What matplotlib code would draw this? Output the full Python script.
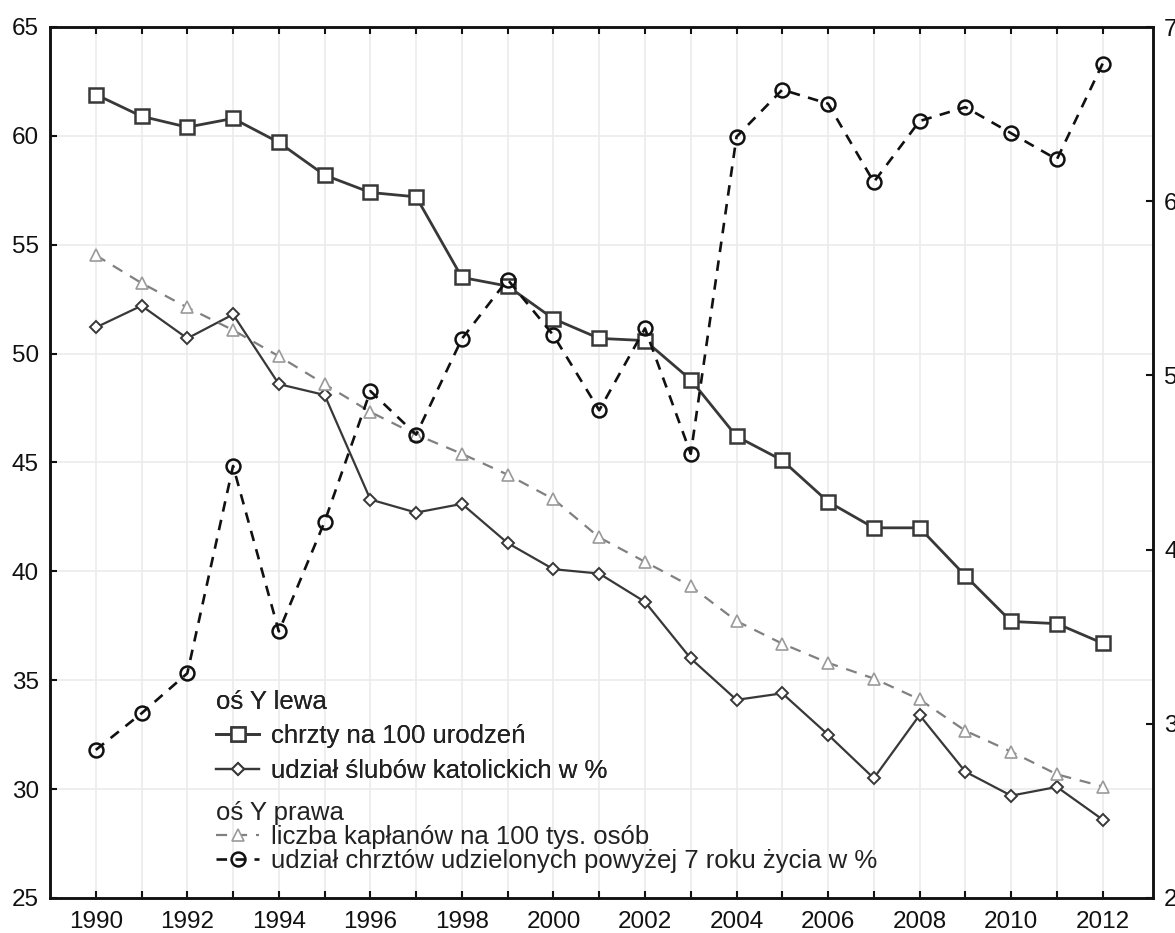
import matplotlib
matplotlib.use("Agg")
import matplotlib.pyplot as plt

plt.rcParams['font.family'] = ['Liberation Sans', 'DejaVu Sans']

# lata
years = [1990, 1991, 1992, 1993, 1994, 1995, 1996, 1997, 1998, 1999, 2000, 2001,
         2002, 2003, 2004, 2005, 2006, 2007, 2008, 2009, 2010, 2011, 2012]
year_labels = [str(y) if y % 2 == 0 else "" for y in years]

# os Y lewa
chrzty = [61.9, 60.9, 60.4, 60.8, 59.7, 58.2, 57.4, 57.2, 53.5, 53.1, 51.6, 50.7,
          50.6, 48.8, 46.2, 45.1, 43.2, 42.0, 42.0, 39.8, 37.7, 37.6, 36.7]
sluby = [51.2, 52.2, 50.7, 51.8, 48.6, 48.1, 43.3, 42.7, 43.1, 41.3, 40.1, 39.9,
         38.6, 36.0, 34.1, 34.4, 32.5, 30.5, 33.4, 30.8, 29.7, 30.1, 28.6]

# os Y prawa
kaplani = [5.69, 5.53, 5.39, 5.26, 5.11, 4.95, 4.79, 4.66, 4.55, 4.43, 4.29, 4.07,
           3.93, 3.79, 3.59, 3.46, 3.35, 3.26, 3.14, 2.96, 2.84, 2.71, 2.64]
chrzty7 = [2.85, 3.06, 3.29, 4.48, 3.53, 4.16, 4.91, 4.66, 5.21, 5.55, 5.23, 4.80,
           5.27, 4.55, 6.37, 6.64, 6.56, 6.11, 6.46, 6.54, 6.39, 6.24, 6.79]

left_ticks = [25, 30, 35, 40, 45, 50, 55, 60, 65]
right_ticks = [2, 3, 4, 5, 6, 7]

fig = plt.figure(figsize=(11.75, 9.33), dpi=100)
ax = fig.add_axes([50/1175, 35/933, 1103/1175, 871/933])
ax2 = ax.twinx()

l1, = ax.plot(years, chrzty, color='#383838', lw=2.0, marker='s', ms=10,
              mfc='white', mec='#383838', mew=1.8, zorder=3)
l2, = ax.plot(years, sluby, color='#383838', lw=1.6, marker='D', ms=6,
              mfc='white', mec='#383838', mew=1.4, zorder=3)
l3, = ax2.plot(years, kaplani, color='#808080', lw=1.6, dashes=(5, 4), marker='^', ms=8,
               mfc='white', mec='#9a9a9a', mew=1.2)
l4, = ax2.plot(years, chrzty7, color='#111111', lw=1.9, dashes=(4, 3.2), marker='o', ms=10,
               mfc='none', mec='#111111', mew=1.8)

ax.set_xlim(1989.0, 2013.1)
ax.set_ylim(25, 65)
ax2.set_ylim(2, 7)
ax.set_xticks(years)
ax.set_xticklabels(year_labels)
ax.set_yticks(left_ticks)
ax2.set_yticks(right_ticks)

ax.grid(True, color='#ebebeb', lw=1.2)
ax.set_axisbelow(True)

for a in (ax, ax2):
    for s in a.spines.values():
        s.set_linewidth(1.8)
        s.set_color('#111111')
ax.tick_params(direction='in', length=5, width=1.5, labelsize=17.5, top=True,
               colors='#111111', pad=9)
ax.tick_params(axis='y', pad=8)
ax2.tick_params(direction='in', length=5, width=1.5, labelsize=17.5,
                colors='#111111', pad=8)

fs = 18.5
leg1 = ax.legend([l1, l2], ["chrzty na 100 urodzeń", "udział ślubów katolickich w %"],
                 title="oś Y lewa", alignment='left', loc='upper left',
                 bbox_to_anchor=(0.134, 0.260), frameon=False, fontsize=fs,
                 title_fontsize=fs, handlelength=1.7, handletextpad=0.45,
                 labelspacing=0.42, borderpad=0.2)
ax.add_artist(leg1)
leg2 = ax2.legend([l3, l4], ["liczba kapłanów na 100 tys. osób",
                             "udział chrztów udzielonych powyżej 7 roku życia w %"],
                  title="oś Y prawa", alignment='left', loc='upper left',
                  bbox_to_anchor=(0.134, 0.132), frameon=False, fontsize=fs,
                  title_fontsize=fs, handlelength=1.7, handletextpad=0.45,
                  labelspacing=0.0, borderpad=0.2)
for leg in (leg1, leg2):
    for t in leg.get_texts():
        t.set_color('#222222')
    leg.get_title().set_color('#222222')

fig.savefig("out.png", dpi=100)
